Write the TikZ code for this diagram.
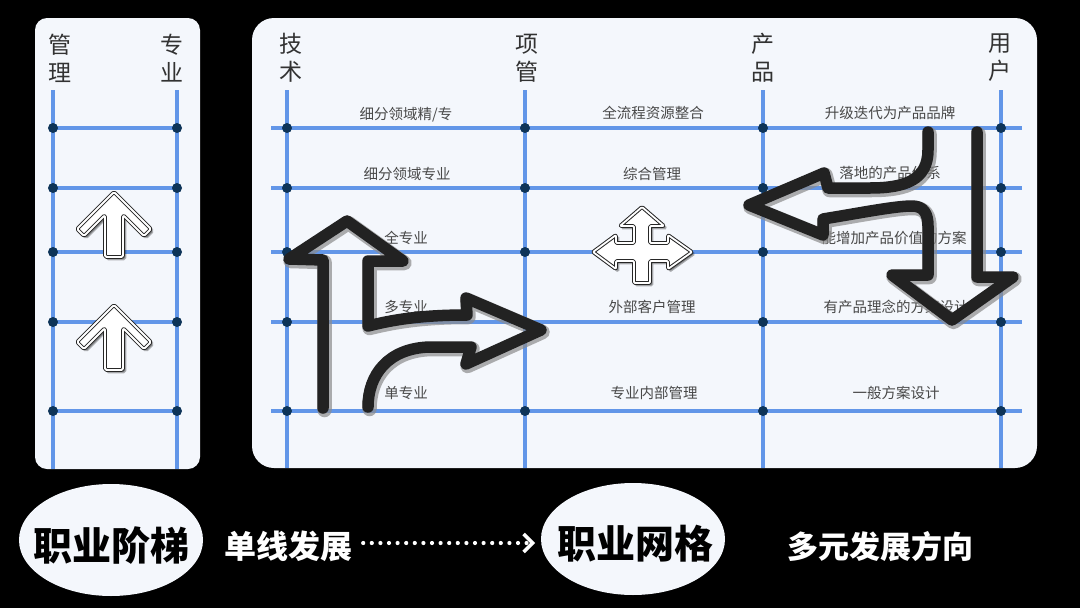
\documentclass[tikz,border=0pt]{standalone}
\usepackage{fontspec}
\setmainfont{Noto Sans CJK SC}
\usetikzlibrary{arrows.meta,shapes.geometric}
\definecolor{gridblue}{RGB}{98,150,232}
\definecolor{dotnavy}{RGB}{14,52,88}
\definecolor{panel}{RGB}{244,247,252}
\definecolor{hdrc}{RGB}{50,50,50}
\definecolor{lblc}{RGB}{72,72,72}
\definecolor{arrblack}{RGB}{34,34,34}
\tikzset{
  gline/.style={gridblue, line width=3.5pt},
  hdr/.style={text=hdrc, font=\fontsize{23}{28}\selectfont, align=center, inner sep=0pt},
  lab/.style={text=lblc, font=\fontsize{14.5}{16}\selectfont, inner sep=0pt},
  outl/.style={draw=black!85, line width=1pt, double=white, double distance=1.8pt, fill=white, line join=round,
    preaction={fill=black, draw=black, line width=2.5pt, opacity=0.3, transform canvas={xshift=2pt,yshift=-2pt}}},
  bigarr/.style={draw=arrblack, line width=11.5pt, line cap=round, line join=round,
    preaction={draw=black!45, line width=14.5pt, line cap=round, line join=round, opacity=0.7, transform canvas={xshift=1.5pt,yshift=-2pt}}},
  bigtxt/.style={font=\fontsize{39}{40}\selectfont\bfseries, text=black, inner sep=0pt},
  wtxt/.style={font=\fontsize{31}{32}\selectfont\bfseries, text=white, inner sep=0pt},
  oval/.style={ellipse, fill=panel, minimum width=184pt, minimum height=112pt, inner sep=0pt},
  dotarr/.style={white, line width=4.2pt, line cap=round, dash pattern=on 0pt off 8.6pt,
    -{Straight Barb[length=9pt,width=18pt,line width=3.6pt]}},
}
\begin{document}
\begin{tikzpicture}[x=1pt,y=-1pt]
\useasboundingbox (0,0) rectangle (1080,608);
\fill[black] (0,0) rectangle (1080,608);
\fill[panel, rounded corners=12pt] (35,18) rectangle (200,469);
\fill[panel, rounded corners=22pt] (252,18) rectangle (1037,468);

% left ladder grid
\foreach \x in {53,177} \draw[gline] (\x,90) -- (\x,469);
\foreach \y in {128,188,252,322,411} {
  \draw[gline] (53,\y) -- (177,\y);
  \fill[dotnavy] (53,\y) circle (5pt) (177,\y) circle (5pt);
}
% right grid
\foreach \x in {287,525,763,1001} \draw[gline] (\x,90) -- (\x,468);
\foreach \y in {128,188,252,322,411} {
  \draw[gline] (271,\y) -- (1022,\y);
  \foreach \x in {287,525,763,1001} \fill[dotnavy] (\x,\y) circle (5pt);
}

% headers
\node[hdr] (hGL) at (60,58) {管\\理};
\node[hdr] (hZY) at (172,58) {专\\业};
\node[hdr] (hJS) at (291,58) {技\\术};
\node[hdr] (hXG) at (527,58) {项\\管};
\node[hdr] (hCP) at (763,58) {产\\品};
\node[hdr] (hYH) at (1000,58) {用\\户};

% column 1 labels
\node[lab] (a1) at (406,115) {细分领域精/专};
\node[lab] (a2) at (407,174) {细分领域专业};
\node[lab] (a3) at (406,238) {全专业};
\node[lab] (a4) at (406,307) {多专业};
\node[lab] (a5) at (406,393) {单专业};
% column 2 labels
\node[lab] (b1) at (653,113) {全流程资源整合};
\node[lab] (b2) at (652,174) {综合管理};
\node[lab] (b3) at (652,307) {外部客户管理};
\node[lab] (b4) at (654,393) {专业内部管理};
% column 3 labels
\node[lab] (c1) at (890,113) {升级迭代为产品品牌};
\node[lab] (c2) at (890,173) {落地的产品体系};
\node[lab] (c3) at (894,238) {能增加产品价值的方案};
\node[lab] (c4) at (896,307) {有产品理念的方案设计};
\node[lab] (c5) at (896,393) {一般方案设计};

% small up arrows in the ladder
\path[outl, rounded corners=1.5pt] (114,192) -- (151,229) -- (144,236) -- (123,215) -- (123,257) -- (105,257) -- (105,215) -- (84,236) -- (77,229) -- cycle;
\begin{scope}[shift={(0,113)}]
\path[outl, rounded corners=1.5pt] (114,192) -- (151,229) -- (144,236) -- (123,215) -- (123,257) -- (105,257) -- (105,215) -- (84,236) -- (77,229) -- cycle;
\end{scope}

% four-way arrow
\path[outl, rounded corners=1pt] (642,207) -- (664,226) -- (650,226) -- (650,243) -- (668,243) -- (668,235) -- (692,252) -- (668,269) -- (668,261) -- (650,261) -- (650,283) -- (634,283) -- (634,261) -- (616,261) -- (616,269) -- (593,252) -- (616,235) -- (616,243) -- (634,243) -- (634,226) -- (620,226) -- cycle;

% big split arrow (up + right)
\draw[bigarr] (323,408) -- (323,260) -- (289,259) -- (347,221) -- (403,261) -- (368,261) -- (368,326)
  .. controls (392,320) and (420,315) .. (467,315) -- (466,298) -- (541,330) -- (466,364) -- (471,347)
  -- (430,347) .. controls (388,348) and (368,375) .. (368,407);

% big left + down arrow
\draw[bigarr] (928,132) -- (928,150) .. controls (928,180) and (905,188) .. (870,188) -- (828,188) -- (824,173)
  -- (749,205) -- (823,235) -- (823,219) .. controls (860,213) and (895,206) .. (912,206)
  .. controls (924,206) and (928,214) .. (928,226) -- (928,275) -- (892,275) -- (952,320) -- (1013,277) -- (977,277) -- (977,132);

% bottom row
\node[oval] (ladder) at (111,540) {};
\node[bigtxt] (ladderT) at (112,546) {职业阶梯};
\node[wtxt, font=\fontsize{32}{33}\selectfont\bfseries] (dan) at (288,546) {单线发展};
\node[oval] (net) at (633,539) {};
\node[bigtxt] (netT) at (635,544) {职业网格};
\node[wtxt] (duo) at (880,547) {多元发展方向};
\draw[dotarr] (dan.east) ++(11,-3) -- ++(172,0);
\end{tikzpicture}
\end{document}
